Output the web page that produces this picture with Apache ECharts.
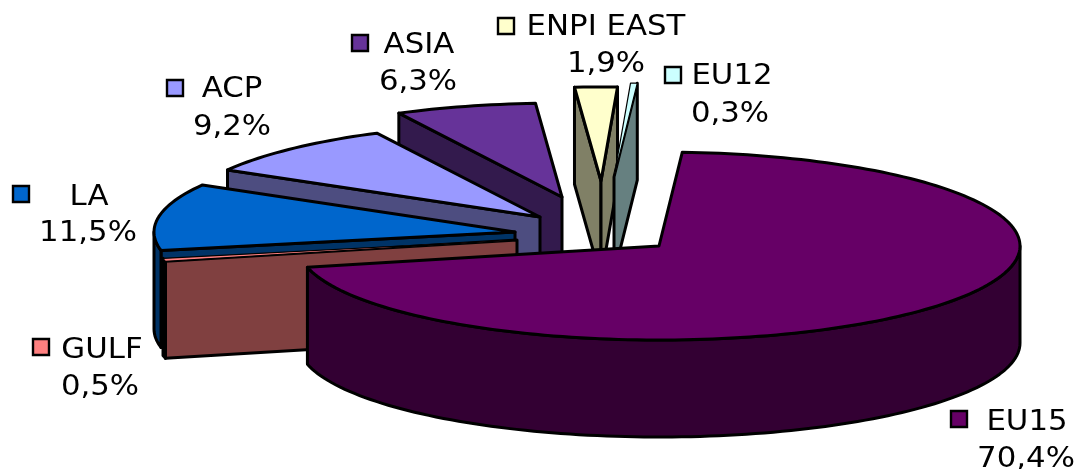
<!DOCTYPE html>
<html>
<head>
<meta charset="utf-8">
<style>
  html, body { margin: 0; padding: 0; background: #fff; }
  #chartsId { width: 1079px; height: 469px; }
</style>
<script src="https://cdn.jsdelivr.net/npm/echarts@6/dist/echarts.min.js"></script>
</head>
<body>
<div id="chartsId"></div>
<script>
const categories = ['EU15', 'GULF', 'LA', 'ACP', 'ASIA', 'ENPI EAST', 'EU12'];
const sliceValues = [70.4, 0.5, 11.5, 9.2, 6.3, 1.9, 0.3];
const sliceColors = ['#660066', '#FF8080', '#0066CC', '#9999FF', '#663399', '#FFFFCC', '#CCFFFF'];

// pie layout
const firstAngle = 3.7;
const centerX = 600, centerY = 225;
const radiusX = 361, radiusY = 94, depth = 97;
// how far each slice is pulled out of the pie
const explode = [[59, 21], [-83, 15], [-85, 7], [-60, -8], [-38, -28], [1, -44], [14, -48]];
// back slices first, EU15 last
const drawOrder = [5, 6, 4, 3, 2, 1, 0];
// key x,y / name x,y / value x,y
const labelPos = [
  [959, 419, 1027, 423, 1026, 460],
  [41, 347, 102, 351, 100, 388],
  [21, 194, 89, 198, 88, 234],
  [175, 88, 232, 90, 232, 128],
  [360, 43, 419, 46, 418, 83],
  [506, 26, 606, 28, 606, 65],
  [673, 75, 732, 77, 730, 115]
];

const total = sliceValues.reduce((a, b) => a + b, 0);
const rad = (d) => d * Math.PI / 180;

const darken = (hex) => {
  const n = parseInt(hex.slice(1), 16);
  const ch = [n >> 16 & 255, n >> 8 & 255, n & 255].map((c) => Math.round(c / 2));
  return 'rgb(' + ch.join(',') + ')';
};

const renderSlice = (params, api) => {
  const i = params.dataIndex;
  let from = firstAngle;
  for (let k = 0; k < i; k++) from += sliceValues[k] / total * 360;
  const to = from + api.value(0) / total * 360;

  const ax = centerX + explode[i][0];
  const ay = centerY + explode[i][1];
  const rim = (deg) => [ax + radiusX * Math.sin(rad(deg)), ay - radiusY * Math.cos(rad(deg))];
  const down = (p) => [p[0], p[1] + depth];
  const rimPoints = (a, b) => {
    const pts = [];
    const steps = Math.max(2, Math.ceil((b - a) / 1.5));
    for (let s = 0; s <= steps; s++) pts.push(rim(a + (b - a) * s / steps));
    return pts;
  };

  const rank = drawOrder.indexOf(i) * 10;
  const color = sliceColors[i];
  const wall = darken(color);
  const children = [];
  const addFace = (points, fill, z, width) => {
    children.push({
      type: 'polygon',
      z2: rank + z,
      shape: { points: points },
      style: { fill: fill, stroke: '#000', lineWidth: width, lineJoin: 'round' }
    });
  };

  // radial walls, only the ones turned to the viewer
  const apex = [ax, ay];
  if (Math.sin(rad(from)) < 0) {
    const p = rim(from);
    addFace([apex, p, down(p), down(apex)], wall, 1, 3);
  }
  if (Math.sin(rad(to)) > 0) {
    const p = rim(to);
    addFace([apex, p, down(p), down(apex)], wall, 2, 3);
  }
  // outer wall, front half of the ellipse
  const wallFrom = Math.max(from, 90), wallTo = Math.min(to, 270);
  if (wallTo > wallFrom) {
    const top = rimPoints(wallFrom, wallTo);
    addFace(top.concat(top.map(down).reverse()), wall, 3, 3);
  }
  // the thinnest slices would vanish under a full width outline
  addFace([apex].concat(rimPoints(from, to)), color, 4, api.value(0) < 1 ? 1.2 : 3);

  // legend key, name and value next to the slice
  const pos = labelPos[i];
  children.push({
    type: 'rect', z2: 200,
    shape: { x: pos[0] - 8, y: pos[1] - 8, width: 16, height: 16 },
    style: { fill: color, stroke: '#000', lineWidth: 2.4 }
  });
  const text = (str, x, y) => ({
    type: 'text', z2: 200, x: x, y: y, scaleX: 1.1,
    style: { text: str, x: 0, y: 0, align: 'center', verticalAlign: 'middle', fill: '#000', font: '28px "DejaVu Sans"' }
  });
  children.push(text(categories[i], pos[2], pos[3]));
  children.push(text(api.value(0).toFixed(1).replace('.', ',') + '%', pos[4], pos[5]));

  return { type: 'group', children: children };
};

const option = {
  animation: false,
  backgroundColor: '#fff',
  series: [
    {
      type: 'custom',
      coordinateSystem: 'none',
      silent: true,
      renderItem: renderSlice,
      data: sliceValues.map((v) => [v])
    }
  ]
};

const myChart = echarts.init(document.getElementById('chartsId'));
myChart.setOption(option);
</script>
</body>
</html>
